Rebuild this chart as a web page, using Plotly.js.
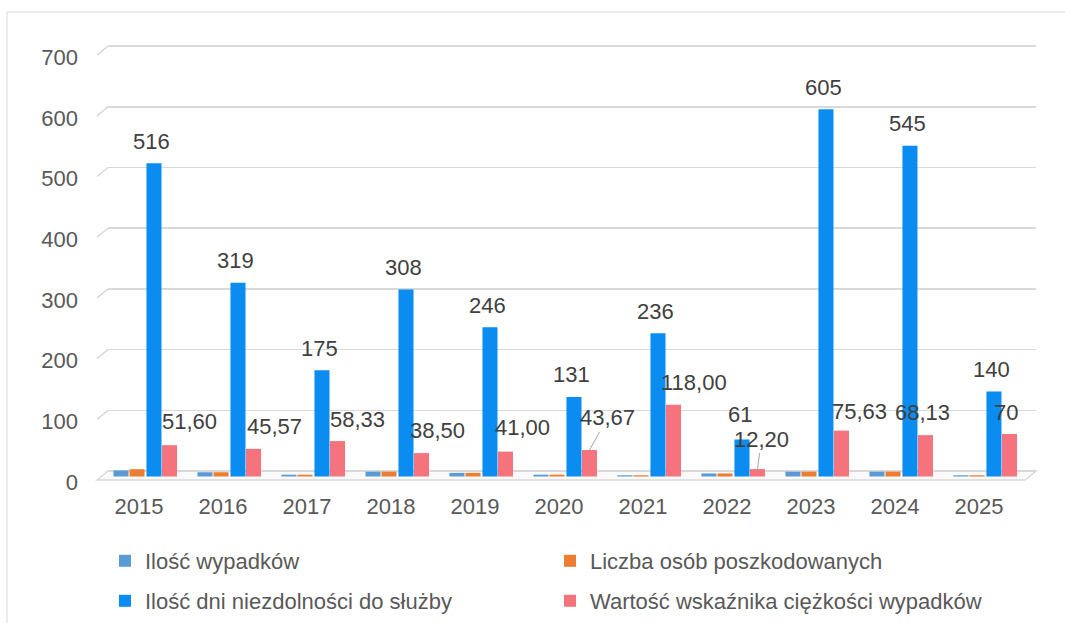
<!DOCTYPE html>
<html>
<head>
<meta charset="utf-8">
<script src="https://cdn.plot.ly/plotly-3.0.1.min.js"></script>
<style>
html,body{margin:0;padding:0;background:#fff;}
#chart{width:1065px;height:623px;}
</style>
</head>
<body>
<div id="chart"></div>
<script>
// ---- data ----
const years = ['2015','2016','2017','2018','2019','2020','2021','2022','2023','2024','2025'];
const wypadki = [10, 7, 3, 8, 6, 3, 2, 5, 8, 8, 2];
const poszkodowani = [12, 7, 3, 8, 6, 3, 2, 5, 8, 8, 2];
const dniNiezdolnosci = [516, 319, 175, 308, 246, 131, 236, 61, 605, 545, 140];
const wskaznik = [51.60, 45.57, 58.33, 38.50, 41.00, 43.67, 118.00, 12.20, 75.63, 68.13, 70];
const wskaznikLabels = ['51,60','45,57','58,33','38,50','41,00','43,67','118,00','12,20','75,63','68,13','70'];
const seriesNames = ['Ilość wypadków','Liczba osób poszkodowanych','Ilość dni niezdolności do służby','Wartość wskaźnika ciężkości wypadków'];

// ---- label placement (pixels, relative to bar top) ----
const blueLabelDy = [22, 22, 22, 22, 22, 22, 22, 25, 22, 22, 22];
const pinkLabelDx = [20, 21, 20, 16, 17, 18, 21, 4, 18, -3, -3];
const pinkLabelDy = [24, 22, 22, 23, 24, 32, 22, 30, 19, 23, 22];
const pinkLeader  = [false,false,false,false,false,true,false,true,false,false,false];

// ---- styles ----
const FONT = 'Liberation Sans, Arial, sans-serif';
const colors = ['#5b9bd5', '#ed7d31', '#0a8cf0', '#f5737d'];
const barW = 0.179;
const barOffsets = [-0.304, -0.113, 0.089, 0.274];

const seriesVals = [wypadki, poszkodowani, dniNiezdolnosci, wskaznik];
const traces = seriesVals.map((vals, k) => ({
  type: 'bar',
  name: seriesNames[k],
  x: years,
  y: vals,
  yaxis: 'y2',
  width: barW,
  offset: barOffsets[k],
  marker: {color: colors[k], line: {width: 0}},
  legend: k < 2 ? 'legend' : 'legend2',
  hoverinfo: 'x+y+name'
}));

// annotations use the category index (numeric-looking category names are read as numbers)
const annotations = [];
years.forEach((yr, i) => {
  annotations.push({
    x: i, y: dniNiezdolnosci[i], xref: 'x', yref: 'y2',
    text: String(dniNiezdolnosci[i]),
    showarrow: false, xshift: 13, yshift: blueLabelDy[i],
    font: {family: FONT, size: 22, color: '#404040'}
  });
  annotations.push({
    x: i, y: wskaznik[i], xref: 'x', yref: 'y2',
    text: wskaznikLabels[i],
    showarrow: true, arrowhead: 0, arrowwidth: 1,
    arrowcolor: pinkLeader[i] ? '#a6a6a6' : 'rgba(0,0,0,0)',
    ax: pinkLabelDx[i], ay: -pinkLabelDy[i], standoff: 0,
    xshift: 30.5,
    font: {family: FONT, size: 22, color: '#404040'}
  });
});

// decorative 3D-ish side lines, floor and outer border
const shapes = [];
const gridVals = [100,200,300,400,500,600,700];
gridVals.forEach(v => {
  shapes.push({type:'line', xref:'paper', yref:'y', x0:-0.01185, y0: v - 14.8, x1:0, y1: v,
               line:{color:'#d9d9d9', width:1.5}, layer:'below'});
});
shapes.push({type:'path', xref:'paper', yref:'paper',
  path:'M -0.01185 0 L 0 0.02064 L 1 0.02064 L 0.98815 0 Z',
  fillcolor:'#fafafa', line:{color:'#d9d9d9', width:1.5}, layer:'below'});
shapes.push({type:'rect', xref:'paper', yref:'paper', x0:-0.1088, y0:-0.34, x1:1.04, y1:1.0734,
  line:{color:'#d9d9d9', width:1}, fillcolor:'rgba(0,0,0,0)', layer:'below'});

const layout = {
  width: 1065, height: 623,
  margin: {l:108, r:29, t:44, b:143, pad:0},
  paper_bgcolor: '#ffffff', plot_bgcolor: 'rgba(0,0,0,0)',
  font: {family: FONT, size: 22, color: '#595959'},
  barmode: 'overlay',
  showlegend: true,
  xaxis: {
    type: 'category', range: [-0.369, 10.679],
    showgrid: false, zeroline: false, showline: false, ticks: '',
    tickfont: {family: FONT, size: 22, color: '#595959'},
    ticklabelstandoff: 11, fixedrange: true
  },
  yaxis: {
    range: [-14.8, 703.5], tickvals: [0,100,200,300,400,500,600,700],
    showgrid: true, gridcolor: '#d9d9d9', gridwidth: 1.5,
    zeroline: false, showline: false, ticks: '',
    tickfont: {family: FONT, size: 22, color: '#595959'},
    ticklabelstandoff: 29, ticklabelshift: 11, fixedrange: true
  },
  yaxis2: {
    overlaying: 'y', range: [-5.77, 712.5],
    showgrid: false, zeroline: false, showline: false, ticks: '',
    showticklabels: false, fixedrange: true
  },
  legend: {
    orientation: 'h', xref: 'container', yref: 'container',
    x: 105/1065, xanchor: 'left', y: 1 - 561/623, yanchor: 'middle',
    entrywidth: 400, font: {family: FONT, size: 22, color: '#595959'},
    bgcolor: 'rgba(0,0,0,0)', borderwidth: 0
  },
  legend2: {
    orientation: 'h', xref: 'container', yref: 'container',
    x: 105/1065, xanchor: 'left', y: 1 - 601/623, yanchor: 'middle',
    entrywidth: 400, font: {family: FONT, size: 22, color: '#595959'},
    bgcolor: 'rgba(0,0,0,0)', borderwidth: 0
  },
  annotations: annotations,
  shapes: shapes
};

Plotly.newPlot('chart', traces, layout, {displayModeBar: false, staticPlot: true});
</script>
</body>
</html>
